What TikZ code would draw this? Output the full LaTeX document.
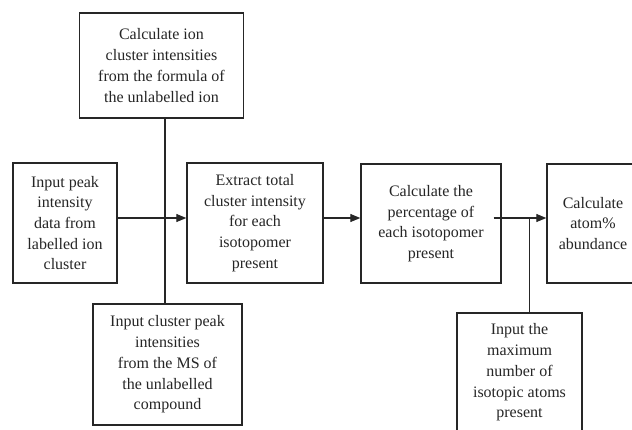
\documentclass[tikz,border=0pt]{standalone}
\usepackage{fontspec}
\setmainfont{Liberation Serif}
\usetikzlibrary{arrows.meta}
\tikzset{
  box/.style={draw=black!85, line width=1.4pt, align=center, inner sep=0pt,
    font=\fontsize{16}{20.7}\selectfont, text=black!85},
  link/.style={draw=black!85, line width=1.1pt},
  arr/.style={link, -{Triangle[length=10pt,width=8pt]}}
}
\begin{document}
\begin{tikzpicture}[x=1pt,y=-1pt]
\path[use as bounding box] (0,0) rectangle (632,429);
\clip (0,0) rectangle (632,429);
\fill[white] (0,0) rectangle (632,429);
\node[box, minimum width=164pt, minimum height=105pt] (top) at (161.5,65.5)
  {Calculate ion\\cluster intensities\\from the formula of\\the unlabelled ion};
\node[box, minimum width=104pt, minimum height=120pt] (inp) at (65,223)
  {Input peak\\intensity\\data from\\labelled ion\\cluster};
\node[box, minimum width=136pt, minimum height=120pt] (ext) at (255,223)
  {Extract total\\cluster intensity\\for each\\isotopomer\\present};
\node[box, minimum width=140pt, minimum height=119pt] (perc) at (431,223.5)
  {Calculate the\\percentage of\\each isotopomer\\present};
\node[box, minimum width=92pt, minimum height=119pt] (atom) at (593,223.5)
  {Calculate\\atom\%\\abundance};
\node[box, minimum width=149pt, minimum height=121pt] (bl) at (167.5,364.5)
  {Input cluster peak\\intensities\\from the MS of\\the unlabelled\\compound};
\node[box, minimum width=125pt, minimum height=119pt] (br) at (519.5,372.5)
  {Input the\\maximum\\number of\\isotopic atoms\\present};
\coordinate (ay) at (0,218);
\coordinate (vx) at (165,0);
\coordinate (vx2) at (529.5,0);
\draw[link] (top.south -| vx) -- (bl.north -| vx);
\draw[link] (br.north -| vx2) -- (ay -| vx2);
\draw[arr] (inp.east |- ay) -- (ext.west |- ay);
\draw[arr] (ext.east |- ay) -- (perc.west |- ay);
\draw[arr] ([xshift=-8pt]perc.east |- ay) -- (atom.west |- ay);
\end{tikzpicture}
\end{document}
